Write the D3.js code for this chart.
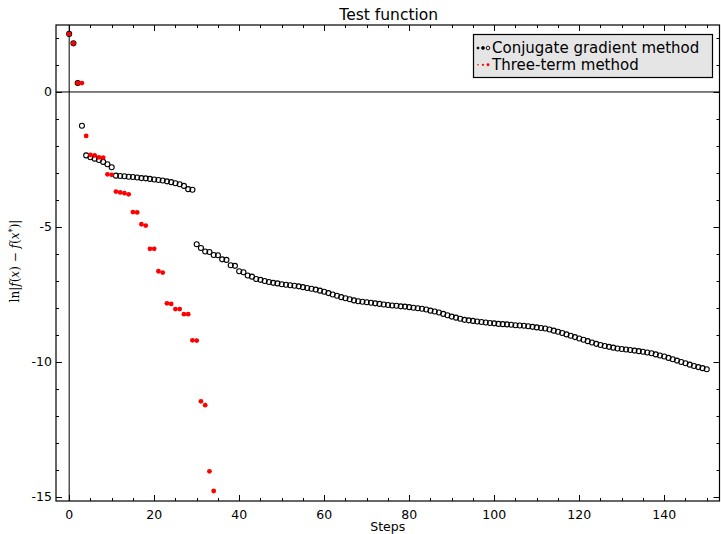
<!DOCTYPE html>
<html><head><meta charset="utf-8">
<script src="https://cdn.jsdelivr.net/npm/d3@7"></script>
<style>body{margin:0;background:#fff}svg{display:block}</style>
</head><body>
<svg id="c" width="721" height="534"></svg>
<script>
const cgValues = [
2.15, 1.80, 0.33, -1.25, -2.35, -2.42, -2.47, -2.52, -2.59, -2.68, -2.79,
-3.10, -3.11, -3.12, -3.14, -3.15, -3.17, -3.19, -3.20, -3.22, -3.24,
-3.26, -3.28, -3.31, -3.34, -3.38, -3.42, -3.48, -3.60, -3.62,
-5.64, -5.78, -5.91, -5.93, -6.04, -6.05, -6.20, -6.22, -6.42, -6.44,
-6.64, -6.68, -6.80, -6.84, -6.93, -6.96, -7.00, -7.04, -7.07, -7.09,
-7.12, -7.14, -7.16, -7.18, -7.20, -7.23, -7.26, -7.29, -7.32, -7.36,
-7.40, -7.45, -7.50, -7.55, -7.60, -7.64, -7.68, -7.72, -7.75, -7.77,
-7.79, -7.81, -7.83, -7.85, -7.87, -7.89, -7.91, -7.92, -7.94, -7.95,
-7.97, -7.99, -8.01, -8.03, -8.06, -8.10, -8.13, -8.17, -8.22, -8.27,
-8.32, -8.36, -8.40, -8.44, -8.46, -8.48, -8.50, -8.52, -8.54, -8.56,
-8.57, -8.59, -8.60, -8.61, -8.62, -8.64, -8.65, -8.66, -8.68, -8.70,
-8.72, -8.74, -8.76, -8.80, -8.84, -8.88, -8.93, -8.98, -9.03, -9.08,
-9.13, -9.18, -9.23, -9.28, -9.33, -9.37, -9.41, -9.44, -9.47, -9.50,
-9.52, -9.54, -9.56, -9.58, -9.60, -9.62, -9.65, -9.68, -9.72, -9.76,
-9.80, -9.85, -9.90, -9.95, -10.00, -10.05, -10.10, -10.15, -10.19, -10.23, -10.27
];
const threeTermValues = [
2.15, 1.80, 0.33, 0.33, -1.63, -2.33, -2.35, -2.42, -2.43, -3.05, -3.07,
-3.69, -3.72, -3.75, -3.79, -4.45, -4.46, -4.90, -4.95, -5.81, -5.81,
-6.64, -6.69, -7.83, -7.85, -8.04, -8.04, -8.23, -8.23, -9.20, -9.21,
-11.46, -11.60, -14.05, -14.78
];
const seriesNames = ["Conjugate gradient method", "Three-term method"];
const xMajorTicks = [0, 20, 40, 60, 80, 100, 120, 140];
const yMajorTicks = [0, -5, -10, -15];
const titleText = "Test function";
const xLabelText = "Steps";

const svg = d3.select("#c");
const L = 56, R = 719.5, T = 25, B = 501;
const x = d3.scaleLinear().domain([-3.1, 153]).range([L, R]);
const y = d3.scaleLinear().domain([-15.15, 2.48]).range([B, T]);
const font = "DejaVu Sans, sans-serif";

// zero lines
svg.append("line").attr("x1", L).attr("x2", R).attr("y1", y(0)).attr("y2", y(0))
  .attr("stroke", "#000").attr("stroke-width", 1);
svg.append("line").attr("x1", x(0)).attr("x2", x(0)).attr("y1", T).attr("y2", B)
  .attr("stroke", "#000").attr("stroke-width", 1);

// data
const cgData = cgValues.map((v, i) => [i, v]);
const ttData = threeTermValues.map((v, i) => [i, v]);
svg.append("g").selectAll("circle").data(cgData).join("circle")
  .attr("cx", d => x(d[0])).attr("cy", d => y(d[1])).attr("r", 2.5)
  .attr("fill", "none").attr("stroke", "#000").attr("stroke-width", 1.1);
svg.append("g").selectAll("circle").data(ttData).join("circle")
  .attr("cx", d => x(d[0])).attr("cy", d => y(d[1])).attr("r", 2.4)
  .attr("fill", "#ff0000");

// frame + axes
const xMinor = d3.range(0, 155, 5).filter(v => v >= -3.1 && v <= 153);
const yMinor = d3.range(-15, 3, 1);
const ax = svg.append("g");
function tick(x1, y1, x2, y2) {
  ax.append("line").attr("x1", x1).attr("y1", y1).attr("x2", x2).attr("y2", y2)
    .attr("stroke", "#000").attr("stroke-width", 1);
}
xMinor.forEach(v => {
  const px = Math.round(x(v)) + 0.5;
  const len = xMajorTicks.includes(v) ? 6 : 3;
  tick(px, B, px, B - len); tick(px, T, px, T + len);
});
yMinor.forEach(v => {
  const py = Math.round(y(v)) + 0.5;
  const len = yMajorTicks.includes(v) ? 6 : 3;
  tick(L, py, L + len, py); tick(R, py, R - len, py);
});
ax.append("rect").attr("x", L).attr("y", T).attr("width", R - L).attr("height", B - T)
  .attr("fill", "none").attr("stroke", "#000").attr("stroke-width", 1.2);

// tick labels
svg.append("g").selectAll("text").data(xMajorTicks).join("text")
  .attr("x", d => x(d)).attr("y", B + 18).attr("text-anchor", "middle")
  .attr("font-family", font).attr("font-size", 12.5).text(d => String(d));
svg.append("g").selectAll("text").data(yMajorTicks).join("text")
  .attr("x", L - 4).attr("y", d => y(d) + 4.5).attr("text-anchor", "end")
  .attr("font-family", font).attr("font-size", 12.5).text(d => String(d));

// title and labels
svg.append("text").attr("x", (L + R) / 2 + 1).attr("y", 19.5).attr("text-anchor", "middle")
  .attr("font-family", font).attr("font-size", 15.5).text(titleText);
svg.append("text").attr("x", (L + R) / 2).attr("y", 531).attr("text-anchor", "middle")
  .attr("font-family", font).attr("font-size", 12.5).text(xLabelText);

const yl = svg.append("text").attr("transform", `translate(19,${(T + B) / 2 - 2}) rotate(-90)`)
  .attr("text-anchor", "middle").attr("font-family", "DejaVu Serif, serif").attr("font-size", 12);
[["ln", "normal"], ["|", "normal"], ["f", "italic"], ["(", "normal"], ["x", "italic"], [")", "normal"],
 [" \u2212 ", "normal"], ["f", "italic"], ["(", "normal"], ["x", "italic"]].forEach(([t, s]) =>
  yl.append("tspan").attr("font-style", s).text(t));
yl.append("tspan").attr("dy", -4.5).attr("font-size", 8.5).text("*");
yl.append("tspan").attr("dy", 4.5).text(")|");

// legend
const lg = svg.append("g");
lg.append("rect").attr("x", 473.5).attr("y", 34.5).attr("width", 239).attr("height", 43)
  .attr("fill", "#e5e5e5").attr("stroke", "#000").attr("stroke-width", 1.2);
const sizes = [1.0, 1.4, 1.8];
[0, 1].forEach(k => {
  const cy = 48 + k * 16.8;
  sizes.forEach((s, j) => {
    const c = lg.append("circle").attr("cx", 478 + j * 5).attr("cy", cy).attr("r", k === 0 ? s : s * 0.8);
    if (k === 0) c.attr("fill", j < 2 ? "#000" : "none").attr("stroke", "#000").attr("stroke-width", 0.9);
    else c.attr("fill", "#ff0000");
  });
  lg.append("text").attr("x", 492).attr("y", cy + 5.3).attr("font-family", font)
    .attr("font-size", 15).text(seriesNames[k]);
});
</script>
</body></html>
